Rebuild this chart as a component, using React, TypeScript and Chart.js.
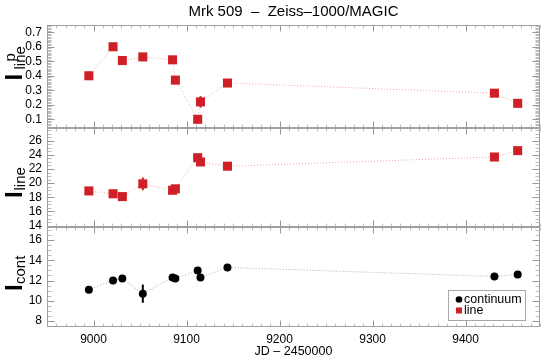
import React, { useEffect, useRef } from 'react';
import { Chart, registerables } from 'chart.js';

Chart.register(...registerables);

// ---------- data ----------
const JD = [8995, 9021, 9031, 9053, 9085, 9088, 9112, 9115, 9144, 9431, 9456];
const POL_LINE = [0.40, 0.60, 0.505, 0.53, 0.51, 0.37, 0.10, 0.22, 0.35, 0.28, 0.21];
const POL_LINE_ERR = [0.01, 0.01, 0.015, 0.01, 0.01, 0.01, 0.01, 0.04, 0.01, 0.01, 0.01];
const LINE_FLUX = [18.9, 18.5, 18.1, 19.9, 19.0, 19.2, 23.6, 23.0, 22.4, 23.7, 24.6];
const LINE_ERR = [0.3, 0.3, 0.3, 0.9, 0.3, 0.3, 0.3, 0.3, 0.3, 0.3, 0.3];
const CONT_FLUX = [11.1, 12.0, 12.2, 10.7, 12.3, 12.2, 13.0, 12.3, 13.3, 12.4, 12.6];
const CONT_ERR = [0.2, 0.2, 0.2, 0.9, 0.2, 0.2, 0.2, 0.2, 0.2, 0.2, 0.2];

const X_TICKS = [9000, 9100, 9200, 9300, 9400];
const Y1_TICKS = [0.1, 0.2, 0.3, 0.4, 0.5, 0.6, 0.7];
const Y2_TICKS = [14, 16, 18, 20, 22, 24, 26];
const Y3_TICKS = [8, 10, 12, 14, 16];

const TITLE = 'Mrk 509  \u2013  Zeiss\u20131000/MAGIC';
const X_TITLE = 'JD \u2013 2450000';
const LEGEND_LABELS = ['continuum', 'line'];

// ---------- style ----------
const FONT = "'Liberation Sans', Arial, Helvetica, sans-serif";
const RED = '#cf1f27';
const BLACK = '#000000';
const FRAME = '#a0a0a0';
const X_MIN = 8950;
const X_MAX = 9480;
const W = 550;
const H = 362;

type Panel = {
  key: string;
  values: number[];
  errors: number[];
  ticks: number[];
  min: number;
  max: number;
  minorStep: number;
  fmt: (v: number) => string;
  color: string;
  lineColor: string;
  pointStyle: string;
  pointRadius: number;
  padTop: number;
  padBottom: number;
  sub: string;
  sup?: string;
  titleStart: number;
  subOffset: number;
  supOffset?: number;
  showTitle?: boolean;
  showX?: boolean;
  legend?: boolean;
};

const PANELS: Panel[] = [
  {
    key: 'p', values: POL_LINE, errors: POL_LINE_ERR, ticks: Y1_TICKS,
    min: 0.04, max: 0.75, minorStep: 0.01, fmt: (v) => v.toFixed(1),
    color: RED, lineColor: '#f2a5a5', pointStyle: 'rect', pointRadius: 6.4,
    padTop: 0, padBottom: H - 128, sub: 'line', sup: 'p',
    titleStart: 80.5, subOffset: 11, supOffset: 19, showTitle: true,
  },
  {
    key: 'l', values: LINE_FLUX, errors: LINE_ERR, ticks: Y2_TICKS,
    min: 13.8, max: 27.8, minorStep: 0.5, fmt: (v) => String(v),
    color: RED, lineColor: '#f2a5a5', pointStyle: 'rect', pointRadius: 6.4,
    padTop: 128, padBottom: H - 227, sub: 'line',
    titleStart: 198, subOffset: 7.5,
  },
  {
    key: 'c', values: CONT_FLUX, errors: CONT_ERR, ticks: Y3_TICKS,
    min: 7.4, max: 17.3, minorStep: 0.5, fmt: (v) => String(v),
    color: BLACK, lineColor: '#a8a8a8', pointStyle: 'circle', pointRadius: 4,
    padTop: 227, padBottom: 0, sub: 'cont',
    titleStart: 291, subOffset: 7, showX: true, legend: true,
  },
];

function makePlugin(p: Panel) {
  return {
    id: 'panelDeco_' + p.key,
    beforeDatasetsDraw(chart: any) {
      const { ctx } = chart;
      const xs = chart.scales.x;
      const ys = chart.scales.y;
      ctx.save();
      ctx.strokeStyle = p.color;
      ctx.lineWidth = 2;
      p.values.forEach((v, i) => {
        const e = p.errors[i];
        if (!e) return;
        const px = xs.getPixelForValue(JD[i]);
        ctx.beginPath();
        ctx.moveTo(px, ys.getPixelForValue(v - e));
        ctx.lineTo(px, ys.getPixelForValue(v + e));
        ctx.stroke();
      });
      ctx.restore();
    },
    afterDraw(chart: any) {
      const { ctx, chartArea } = chart;
      const xs = chart.scales.x;
      const ys = chart.scales.y;
      const L = Math.round(chartArea.left) + 0.5;
      const R = Math.round(chartArea.right) - 0.5;
      const T = Math.round(chartArea.top) + 0.5;
      const B = Math.round(chartArea.bottom) - 0.5;
      ctx.save();
      ctx.lineWidth = 1;
      // minor y ticks
      ctx.strokeStyle = '#bdbdbd';
      ctx.beginPath();
      for (let v = Math.ceil(p.min / p.minorStep) * p.minorStep; v <= p.max + 1e-9; v += p.minorStep) {
        const y = Math.round(ys.getPixelForValue(v)) + 0.5;
        ctx.moveTo(L, y); ctx.lineTo(L + 4, y);
        ctx.moveTo(R, y); ctx.lineTo(R - 4, y);
      }
      // minor x ticks
      for (let v = X_MIN; v <= X_MAX; v += 10) {
        const x = Math.round(xs.getPixelForValue(v)) + 0.5;
        ctx.moveTo(x, T); ctx.lineTo(x, T + 3);
        ctx.moveTo(x, B); ctx.lineTo(x, B - 3);
      }
      ctx.stroke();
      // major ticks
      ctx.strokeStyle = '#969696';
      ctx.beginPath();
      p.ticks.forEach((v) => {
        const y = Math.round(ys.getPixelForValue(v)) + 0.5;
        ctx.moveTo(L, y); ctx.lineTo(L + 7, y);
        ctx.moveTo(R, y); ctx.lineTo(R - 7, y);
      });
      X_TICKS.forEach((v) => {
        const x = Math.round(xs.getPixelForValue(v)) + 0.5;
        ctx.moveTo(x, T); ctx.lineTo(x, T + 6);
        ctx.moveTo(x, B); ctx.lineTo(x, B - 6);
      });
      ctx.stroke();
      // frame
      ctx.strokeStyle = FRAME;
      ctx.strokeRect(L, T, R - L, B - T);

      // y title
      ctx.save();
      ctx.translate(21.7, p.titleStart);
      ctx.rotate(-Math.PI / 2);
      ctx.fillStyle = '#000';
      ctx.textAlign = 'left';
      ctx.textBaseline = 'alphabetic';
      ctx.font = 'bold 24px ' + FONT;
      ctx.fillText('I', 0, 0);
      ctx.font = '15px ' + FONT;
      ctx.fillText(p.sub, p.subOffset, 3.5);
      if (p.sup) ctx.fillText(p.sup, p.supOffset || 0, -6.5);
      ctx.restore();

      // legend
      if (p.legend) {
        const bx = chartArea.right - 15 - 77;
        const by = chartArea.bottom - 7 - 30;
        ctx.fillStyle = '#ffffff';
        ctx.fillRect(Math.round(bx) + 0.5, Math.round(by) + 0.5, 77, 30);
        ctx.strokeStyle = '#a8a8a8';
        ctx.strokeRect(Math.round(bx) + 0.5, Math.round(by) + 0.5, 77, 30);
        const mx = bx + 11;
        ctx.fillStyle = BLACK;
        ctx.beginPath();
        ctx.arc(mx, by + 9.5, 3.3, 0, Math.PI * 2);
        ctx.fill();
        ctx.fillStyle = RED;
        ctx.fillRect(mx - 3, by + 20.5 - 3, 6, 6);
        ctx.fillStyle = '#000';
        ctx.font = '12.5px ' + FONT;
        ctx.textBaseline = 'middle';
        ctx.textAlign = 'left';
        ctx.fillText(LEGEND_LABELS[0], mx + 5, by + 9.5);
        ctx.fillText(LEGEND_LABELS[1], mx + 5, by + 20.5);
      }
      ctx.restore();
    },
  };
}

function makeConfig(p: Panel): any {
  return {
    type: 'scatter',
    data: {
      datasets: [
        {
          data: JD.map((x, i) => ({ x, y: p.values[i] })),
          showLine: true,
          borderColor: p.lineColor,
          borderWidth: 1,
          borderDash: [1, 2],
          pointStyle: p.pointStyle,
          pointRadius: p.pointRadius,
          pointBackgroundColor: p.color,
          pointBorderColor: p.color,
          pointBorderWidth: 0,
        },
      ],
    },
    options: {
      animation: false,
      responsive: false,
      maintainAspectRatio: false,
      events: [],
      layout: { padding: { left: 0, right: 10, top: p.padTop, bottom: p.padBottom } },
      plugins: {
        legend: { display: false },
        tooltip: { enabled: false },
        title: {
          display: !!p.showTitle,
          text: TITLE,
          fullSize: false,
          color: '#000',
          font: { family: FONT, size: 15, weight: 'normal', lineHeight: 1.2 },
          padding: { top: 3, bottom: 4 },
        },
      },
      scales: {
        x: {
          type: 'linear',
          min: X_MIN,
          max: X_MAX,
          display: !!p.showX,
          afterBuildTicks: (s: any) => { s.ticks = X_TICKS.map((v) => ({ value: v })); },
          afterFit: (s: any) => { s.height = p.showX ? 35 : 0; },
          grid: { display: false, drawTicks: false },
          border: { display: false },
          ticks: {
            color: '#000',
            padding: 5,
            maxRotation: 0,
            autoSkip: false,
            font: { family: FONT, size: 12 },
            callback: (v: any) => String(v),
          },
          title: {
            display: true,
            text: X_TITLE,
            color: '#000',
            font: { family: FONT, size: 12.5 },
            padding: { top: 0, bottom: 3 },
          },
        },
        y: {
          type: 'linear',
          min: p.min,
          max: p.max,
          afterBuildTicks: (s: any) => { s.ticks = p.ticks.map((v) => ({ value: v })); },
          afterFit: (s: any) => { s.width = 47; },
          grid: { display: false, drawTicks: false },
          border: { display: false },
          ticks: {
            color: '#000',
            padding: 5,
            autoSkip: false,
            font: { family: FONT, size: 12 },
            callback: (v: any) => p.fmt(Number(v)),
          },
        },
      },
    },
    plugins: [makePlugin(p)],
  };
}

export default function App() {
  const refs = [useRef<HTMLCanvasElement>(null), useRef<HTMLCanvasElement>(null), useRef<HTMLCanvasElement>(null)];

  useEffect(() => {
    document.body.style.margin = '0';
    const charts = PANELS.map((p, i) => new Chart(refs[i].current as HTMLCanvasElement, makeConfig(p)));
    return () => charts.forEach((c) => c.destroy());
  }, []);

  return (
    <div style={{ position: 'relative', width: W, height: H, background: '#fff' }}>
      {PANELS.map((p, i) => (
        <canvas
          key={p.key}
          ref={refs[i]}
          width={W}
          height={H}
          style={{ position: 'absolute', left: 0, top: 0, width: W, height: H }}
        />
      ))}
    </div>
  );
}
